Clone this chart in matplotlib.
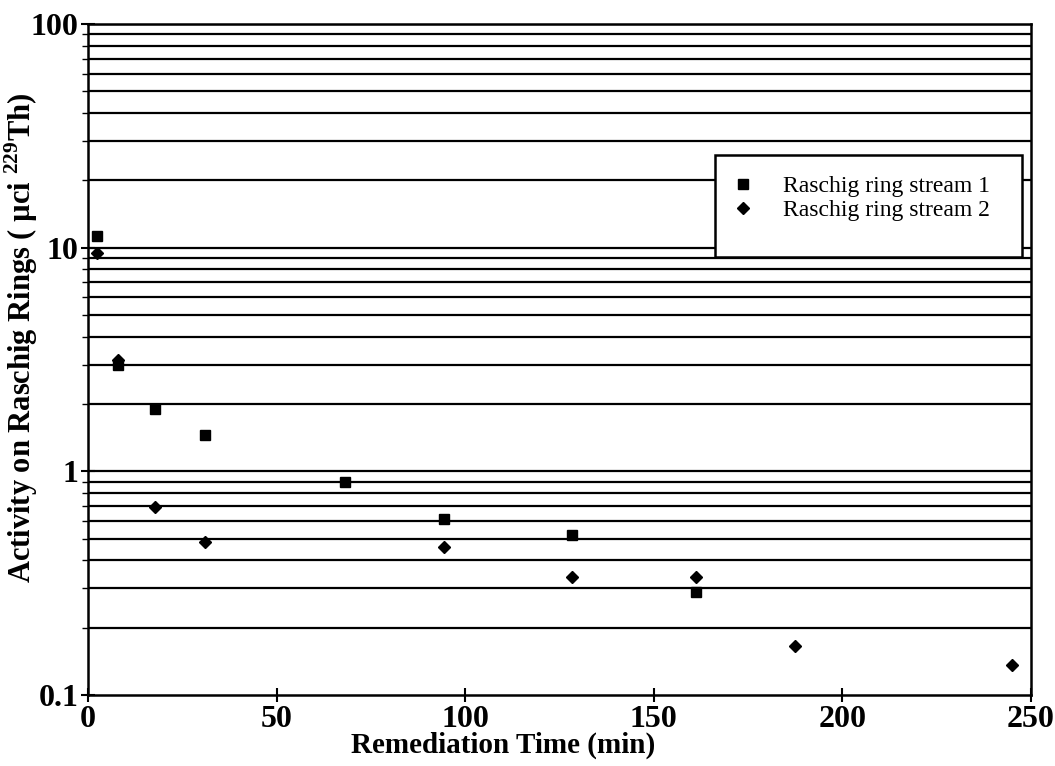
import numpy as np
import matplotlib
matplotlib.use('Agg')
import matplotlib.pyplot as plt
from matplotlib.patches import Rectangle
from matplotlib.ticker import FixedLocator, FixedFormatter, NullFormatter

# data
t1 = [2.4, 8.0, 17.8, 31.0, 68.1, 94.4, 128.3, 161.2]
a1 = [11.3, 3.0, 1.9, 1.46, 0.9, 0.61, 0.52, 0.289]
t2 = [2.4, 8.0, 17.8, 31.0, 94.4, 128.3, 161.2, 187.4, 245.0]
a2 = [9.5, 3.15, 0.695, 0.485, 0.46, 0.337, 0.337, 0.166, 0.136]
xticks = [0, 50, 100, 150, 200, 250]
yticks = [0.1, 1, 10, 100]
ylabels = ['0.1', '1', '10', '100']

plt.rcParams['font.family'] = ['Liberation Serif', 'DejaVu Serif']
plt.rcParams['mathtext.fontset'] = 'custom'
plt.rcParams['mathtext.rm'] = 'Liberation Serif:bold'
plt.rcParams['mathtext.bf'] = 'Liberation Serif:bold'

fig = plt.figure(figsize=(10.55, 7.66), dpi=100)
ax = fig.add_axes([0.0834, 0.0927, 0.8939, 0.876])

ax.set_yscale('log')
ax.set_xlim(0, 250)
ax.set_ylim(0.1, 100)

# horizontal grid at every 1..9 step of each decade
grid_vals = []
for d in [0.1, 1, 10]:
    for k in range(1, 10):
        v = d * k
        if v > 0.1:
            grid_vals.append(v)
grid_vals.append(100)
for v in grid_vals:
    ax.axhline(v, color='black', lw=1.6, zorder=1)

ax.plot(t1, a1, 's', color='black', ms=7.5, label='Raschig ring stream 1', zorder=3)
ax.plot(t2, a2, 'D', color='black', ms=6.5, label='Raschig ring stream 2', zorder=3)

ax.xaxis.set_major_locator(FixedLocator(xticks))
ax.set_xticklabels([str(x) for x in xticks])
ax.yaxis.set_major_locator(FixedLocator(yticks))
ax.yaxis.set_major_formatter(FixedFormatter(ylabels))
ax.yaxis.set_minor_formatter(NullFormatter())
ax.tick_params(axis='both', which='major', direction='inout', length=10, width=1.5,
               labelsize=23, pad=2)
ax.tick_params(axis='y', which='minor', direction='out', length=4, width=1)
for lab in ax.get_xticklabels() + ax.get_yticklabels():
    lab.set_fontweight('bold')
for s in ax.spines.values():
    s.set_linewidth(1.8)

ax.set_xlabel('Remediation Time (min)', fontsize=21, fontweight='bold', labelpad=-5)
ax.xaxis.set_label_coords(0.44, -0.055)
ax.set_ylabel(r'Activity on Raschig Rings ( µci $^{229}$Th)', fontsize=22,
              fontweight='bold')
ax.yaxis.set_label_coords(-0.051, 0.532)

# legend box (drawn separately so it keeps the wide right margin of the original)
ax.add_patch(Rectangle((0.665, 0.653), 0.325, 0.152, transform=ax.transAxes,
                       facecolor='white', edgecolor='black', lw=1.8, zorder=4))
leg = ax.legend(loc='upper left', bbox_to_anchor=(0.682, 0.774), fontsize=17,
                frameon=False, borderpad=0, handlelength=1.0, handletextpad=1.2,
                labelspacing=0.1, borderaxespad=0)
leg.set_zorder(5)

fig.savefig('out.png', dpi=100)
